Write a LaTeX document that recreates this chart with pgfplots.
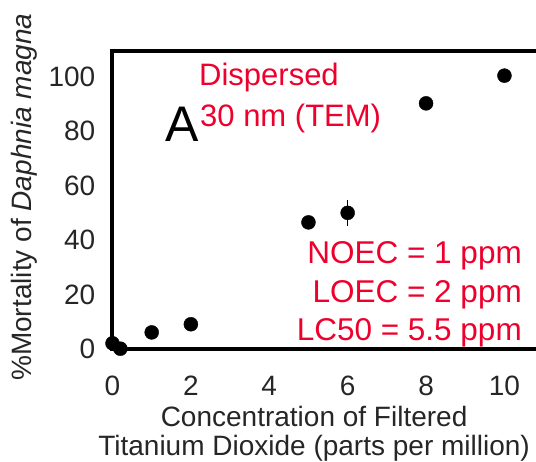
\documentclass[border=0pt]{standalone}
\usepackage{fontspec}
\setmainfont{Liberation Sans}
\usepackage{pgfplots}
\pgfplotsset{compat=1.18}
\definecolor{redtxt}{RGB}{238,0,45}
\begin{document}
\begin{tikzpicture}
\path[use as bounding box] (0pt,0pt) rectangle (536pt,-461pt);
\begin{axis}[
  at={(112.5pt,-348.7pt)}, anchor=south west,
  scale only axis, width=428pt, height=298.2pt,
  xmin=0, xmax=10.92, ymin=0, ymax=109.75,
  axis line style={draw=none},
  major tick length=0pt,
  xtick={0,2,...,10}, ytick={0,20,...,100},
  clip=false,
  /pgf/number format/assume math mode=true,
  ticklabel style={font=\fontsize{28}{30}\selectfont, inner sep=0pt, text=black!85},
  xticklabel style={anchor=north, yshift=-27pt},
  yticklabel style={anchor=east, xshift=-17pt},
  xlabel={Concentration of Filtered\\Titanium Dioxide (parts per million)},
  xlabel style={at={(rel axis cs:0.471,0)}, anchor=north, yshift=-57pt, align=center, font=\fontsize{28}{29}\selectfont, inner sep=0pt, text=black!85},
  ylabel={\%Mortality of \textit{Daphnia magna}},
  ylabel style={at={(rel axis cs:0,0.508)}, anchor=center, rotate=0, yshift=88pt, font=\fontsize{28}{30}\selectfont, inner sep=0pt, text=black!85},
]
\draw[line width=4pt] (rel axis cs:1,0) -- (rel axis cs:0,0) -- (rel axis cs:0,1) -- (rel axis cs:1,1);
\addplot[only marks, mark=*, mark size=7pt, mark options={fill=black, draw=black},
  error bars/.cd, y dir=both, y explicit,
  error bar style={line width=1.6pt, black},
  error mark options={mark size=3.5pt, line width=1.6pt, black}]
  coordinates {
  (0,2) +- (0,0)
  (0.2,0) +- (0,0)
  (1,6) +- (0,0)
  (2,9) +- (0,0)
  (5,46.5) +- (0,0)
  (6,50) +- (0,3.5)
  (8,90.3) +- (0,0)
  (10,100.5) +- (0,0)
  };
\end{axis}
\node[anchor=base east, inner sep=0pt, text=redtxt, font=\fontsize{31.5}{32}\selectfont] at (522pt,-263pt) {NOEC = 1 ppm};
\node[anchor=base east, inner sep=0pt, text=redtxt, font=\fontsize{31.5}{32}\selectfont] at (522pt,-302pt) {LOEC = 2 ppm};
\node[anchor=base east, inner sep=0pt, text=redtxt, font=\fontsize{31.5}{32}\selectfont] at (522pt,-340pt) {LC50 = 5.5 ppm};
\node[anchor=base west, inner sep=0pt, text=redtxt, font=\fontsize{31}{32}\selectfont] at (199pt,-85pt) {Dispersed};
\node[anchor=base west, inner sep=0pt, text=redtxt, font=\fontsize{31}{32}\selectfont] at (200pt,-126pt) {30 nm (TEM)};
\node[anchor=base west, inner sep=0pt, text=black, font=\fontsize{50}{52}\selectfont] at (165.5pt,-141.7pt) {A};
\end{tikzpicture}
\end{document}
